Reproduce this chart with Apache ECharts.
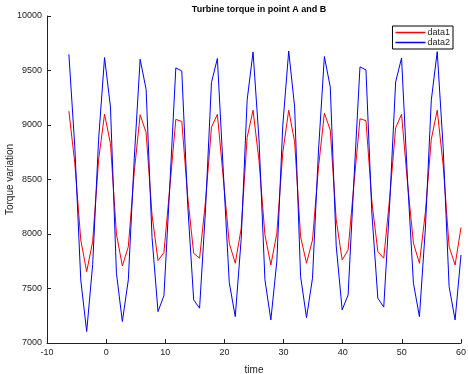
<!DOCTYPE html>
<html>
<head>
<meta charset="utf-8">
<script src="https://cdn.jsdelivr.net/npm/echarts@6/dist/echarts.min.js"></script>
<style>
  html, body { margin: 0; padding: 0; background: #fff; }
  #chart { width: 468px; height: 374px; }
</style>
</head>
<body>
<div id="chart"></div>
<script>
// instantes de muestreo (eje x)
var tiempos = [-6.30, -5.30, -4.29, -3.29, -2.28, -1.28, -0.27, 0.73, 1.74, 2.74,
  3.75, 4.75, 5.75, 6.76, 7.76, 8.77, 9.77, 10.78, 11.78, 12.79,
  13.79, 14.80, 15.80, 16.80, 17.81, 18.81, 19.82, 20.82, 21.83, 22.83,
  23.84, 24.84, 25.85, 26.85, 27.85, 28.86, 29.86, 30.87, 31.87, 32.88,
  33.88, 34.89, 35.89, 36.90, 37.90, 38.90, 39.91, 40.91, 41.92, 42.92,
  43.93, 44.93, 45.94, 46.94, 47.95, 48.95, 49.95, 50.96, 51.96, 52.97,
  53.97, 54.98, 55.98, 56.99, 57.99, 59.00, 60.00];

// punto A (data1, rojo)
var data1 = [9127, 8650, 7945, 7655, 7930, 8678, 9100, 8830, 8000, 7707,
  7884, 8570, 9094, 8930, 8174, 7756, 7830, 8437, 9052, 9032,
  8342, 7823, 7778, 8299, 8980, 9098, 8505, 7915, 7732, 8050,
  8885, 9136, 8672, 7990, 7716, 8007, 8743, 9136, 8846, 7975,
  7732, 7945, 8605, 9109, 8953, 8130, 7762, 7854, 8472, 9057,
  9040, 8298, 7838, 7778, 8335, 8975, 9099, 8466, 7915, 7732,
  8197, 8870, 9136, 8629, 7884, 7716, 8060];

// punto B (data2, azul)
var data2 = [9649, 8800, 7579, 7105, 7720, 8861, 9619, 9166, 7640, 7197,
  7579, 8691, 9603, 9327, 7968, 7288, 7434, 8460, 9524, 9496,
  8270, 7396, 7319, 8222, 9390, 9610, 8562, 7554, 7242, 7950,
  9228, 9670, 8864, 7579, 7212, 7750, 8990, 9679, 9166, 7609,
  7233, 7594, 8752, 9628, 9347, 7890, 7304, 7441, 8522, 9533,
  9506, 8192, 7411, 7329, 8284, 9395, 9615, 8494, 7548, 7242,
  8046, 9228, 9673, 8786, 7517, 7212, 7808];

var xTicks = [-10, 60, 10];
var yTicks = [7000, 10000, 500];

const pares = (valores) => {
    var datos = [];
    for (var i = 0; i < tiempos.length; i++) {
        datos.push([tiempos[i], valores[i]]);
    }
    return datos;
};

const fuente = 'Liberation Sans';

var chart = echarts.init(document.getElementById('chart'), null, { renderer: 'canvas' });
chart.setOption({
    animation: false,
    backgroundColor: '#fff',
    title: {
        text: 'Turbine torque in point A and B',
        left: 254,
        textAlign: 'center',
        top: 0,
        textStyle: { fontFamily: fuente, fontSize: 9, fontWeight: 'bold', color: '#000' }
    },
    grid: { left: 47, right: 7, top: 16, bottom: 31, containLabel: false, outerBoundsMode: 'none' },
    legend: {
        right: 15,
        top: 26,
        orient: 'vertical',
        backgroundColor: '#fff',
        borderColor: '#000',
        borderWidth: 1,
        borderRadius: 0,
        padding: [2, 3, 2, 3],
        itemGap: 1,
        itemWidth: 30,
        itemHeight: 1.5,
        icon: 'rect',
        textStyle: { fontFamily: fuente, fontSize: 9, color: '#222', padding: [0, 0, 0, -3] },
        data: ['data1', 'data2']
    },
    xAxis: {
        type: 'value',
        min: xTicks[0], max: xTicks[1], interval: xTicks[2],
        name: 'time',
        nameLocation: 'middle',
        nameGap: 22,
        nameMoveOverlap: false,
        nameTextStyle: { fontFamily: fuente, fontSize: 10, color: '#222' },
        axisLine: { show: true, onZero: false, lineStyle: { color: '#222', width: 1 } },
        axisTick: { show: true, inside: true, length: 4, lineStyle: { color: '#222' } },
        axisLabel: { fontFamily: fuente, fontSize: 9, color: '#222', margin: 5 },
        splitLine: { show: false }
    },
    yAxis: {
        type: 'value',
        min: yTicks[0], max: yTicks[1], interval: yTicks[2],
        name: 'Torque variation',
        nameLocation: 'middle',
        nameGap: 32,
        nameMoveOverlap: false,
        nameRotate: 90,
        nameTextStyle: { fontFamily: fuente, fontSize: 10, color: '#222' },
        axisLine: { show: true, onZero: false, lineStyle: { color: '#222', width: 1 } },
        axisTick: { show: true, inside: true, length: 4, lineStyle: { color: '#222' } },
        axisLabel: {
            fontFamily: fuente, fontSize: 9, color: '#222', margin: 5,
            formatter: (v) => String(v)
        },
        splitLine: { show: false }
    },
    series: [
        {
            name: 'data1',
            type: 'line',
            data: pares(data1),
            symbol: 'none',
            color: '#ff0000',
            lineStyle: { color: '#ff0000', width: 1 }
        },
        {
            name: 'data2',
            type: 'line',
            data: pares(data2),
            symbol: 'none',
            color: '#0000ff',
            lineStyle: { color: '#0000ff', width: 1 }
        }
    ]
});
</script>
</body>
</html>
